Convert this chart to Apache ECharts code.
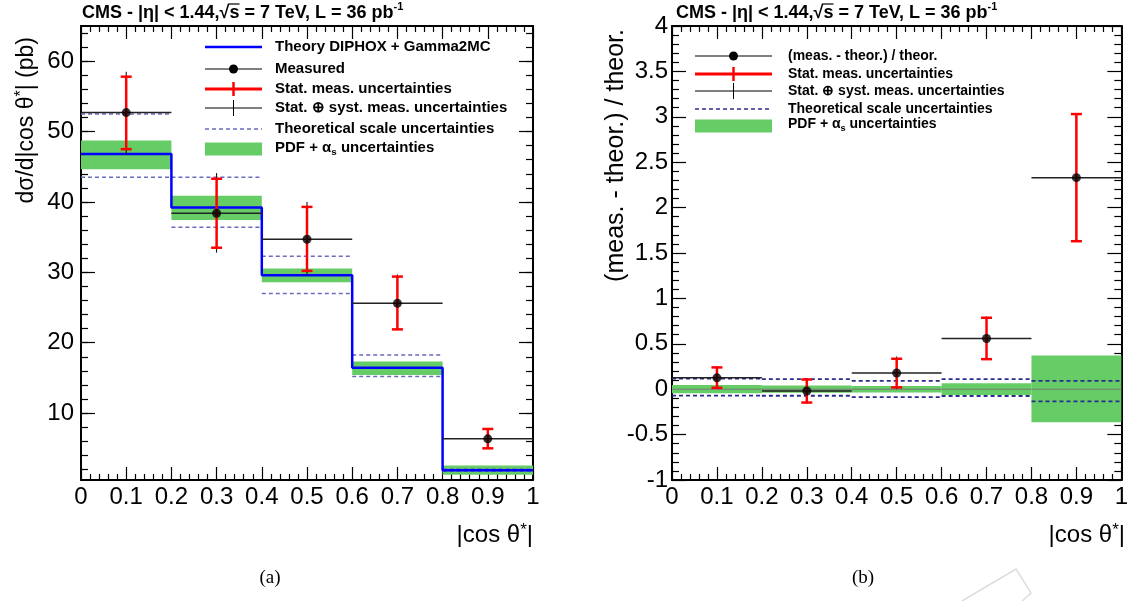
<!DOCTYPE html>
<html>
<head>
<meta charset="utf-8">
<script src="https://cdn.jsdelivr.net/npm/echarts@6/dist/echarts.min.js"></script>
<style>
  html, body { margin: 0; padding: 0; background: #fff; }
  #main { width: 1131px; height: 601px; }
</style>
</head>
<body>
<div id="main"></div>
<script>
// bins in |cos theta*|
var binLow = [0, 0.2, 0.4, 0.6, 0.8];
var binHigh = [0.2, 0.4, 0.6, 0.8, 1.0];
var binCenter = [0.1, 0.3, 0.5, 0.7, 0.9];

// (a) cross section, pb
var measured = [52.7, 38.4, 34.7, 25.6, 6.35];
var statUp = [57.8, 43.3, 39.3, 29.4, 7.75];
var statDown = [47.5, 33.5, 30.2, 21.9, 5.0];
var totUp = [58.5, 44.1, 40.0, 29.7, 7.85];
var totDown = [46.7, 32.8, 29.6, 21.8, 4.95];
var theory = [46.8, 39.2, 29.6, 16.45, 1.9];
var pdfUp = [48.75, 40.9, 30.55, 17.35, 2.55];
var pdfDown = [44.65, 37.45, 28.6, 15.4, 1.25];
var scaleUp = [52.5, 43.5, 32.3, 18.25, 2.05];
var scaleDown = [43.5, 36.4, 27.0, 15.2, 1.75];

// (b) (meas - theor) / theor
var ratio = [0.125, -0.02, 0.178, 0.558, 2.33];
var rStatUp = [0.24, 0.107, 0.335, 0.787, 3.03];
var rStatDown = [0.015, -0.147, 0.02, 0.331, 1.63];
var rTotUp = [0.255, 0.12, 0.36, 0.80, 3.04];
var rTotDown = [0.005, -0.16, 0.0, 0.32, 1.62];
var rPdfUp = [0.045, 0.04, 0.035, 0.065, 0.37];
var rPdfDown = [-0.045, -0.04, -0.035, -0.065, -0.365];
var rScaleUp = [0.117, 0.11, 0.092, 0.11, 0.092];
var rScaleDown = [-0.07, -0.072, -0.088, -0.075, -0.135];

// axis ticks
var yTicksA = [10, 20, 30, 40, 50, 60];
var yMinorA = [];
for (var t = 2; t <= 64; t += 2) yMinorA.push(t);

var FONT = 'Liberation Sans, Arial, Helvetica, sans-serif';
var GREEN = '#66cc66';
var TITLE = 'CMS - |\u03b7| < 1.44,\u221as = 7 TeV, L = 36 pb';

function rows() {
    var cols = Array.prototype.slice.call(arguments);
    return cols[0].map(function (v, i) {
        return cols.map(function (c) { return c[i]; });
    });
}

function stepLine(lo, hi, v) {
    var pts = [];
    for (var i = 0; i < v.length; i++) {
        pts.push([lo[i], v[i]]);
        pts.push([hi[i], v[i]]);
    }
    return pts;
}

// [lo, hi, down, up]
function renderBand(params, api) {
    var p1 = api.coord([api.value(0), api.value(3)]);
    var p2 = api.coord([api.value(1), api.value(2)]);
    return {
        type: 'rect',
        shape: { x: p1[0], y: p1[1], width: p2[0] - p1[0], height: p2[1] - p1[1] },
        style: { fill: GREEN }
    };
}

function makeDashed(color, width) {
    return function (params, api) {
        var a1 = api.coord([api.value(0), api.value(3)]);
        var a2 = api.coord([api.value(1), api.value(3)]);
        var b1 = api.coord([api.value(0), api.value(2)]);
        var b2 = api.coord([api.value(1), api.value(2)]);
        var st = { stroke: color, lineWidth: width, lineDash: [4, 3] };
        return {
            type: 'group',
            children: [
                { type: 'line', shape: { x1: a1[0], y1: a1[1], x2: a2[0], y2: a2[1] }, style: st },
                { type: 'line', shape: { x1: b1[0], y1: b1[1], x2: b2[0], y2: b2[1] }, style: st }
            ]
        };
    };
}

// [lo, hi, value]
function makeHoriz(color) {
    return function (params, api) {
        var p1 = api.coord([api.value(0), api.value(2)]);
        var p2 = api.coord([api.value(1), api.value(2)]);
        return {
            type: 'line',
            shape: { x1: p1[0], y1: p1[1], x2: p2[0], y2: p2[1] },
            style: { stroke: color, lineWidth: 1.5 }
        };
    };
}

// [x, down, up]
function makeErr(color, width, cap) {
    return function (params, api) {
        var top = api.coord([api.value(0), api.value(2)]);
        var bot = api.coord([api.value(0), api.value(1)]);
        var st = { stroke: color, lineWidth: width };
        var kids = [{ type: 'line', shape: { x1: top[0], y1: top[1], x2: bot[0], y2: bot[1] }, style: st }];
        if (cap) {
            kids.push({ type: 'line', shape: { x1: top[0] - cap, y1: top[1], x2: top[0] + cap, y2: top[1] }, style: st });
            kids.push({ type: 'line', shape: { x1: bot[0] - cap, y1: bot[1], x2: bot[0] + cap, y2: bot[1] }, style: st });
        }
        return { type: 'group', children: kids };
    };
}

function xAxisPair(grid) {
    var base = {
        type: 'value', gridIndex: grid, min: 0, max: 1, interval: 0.1,
        axisLine: { show: true, onZero: false, lineStyle: { color: '#000', width: 2 } },
        axisTick: { show: true, inside: true, length: 13, lineStyle: { color: '#000', width: 1.2 } },
        minorTick: { show: true, splitNumber: 5, length: 6, lineStyle: { color: '#000', width: 1.2 } },
        splitLine: { show: false },
        axisLabel: { show: true, fontSize: 24, color: '#000', fontFamily: FONT, margin: 5 }
    };
    var top = JSON.parse(JSON.stringify(base));
    top.position = 'top';
    top.axisLabel = { show: false };
    base.position = 'bottom';
    return [base, top];
}

function yAxisA(pos, major, labels) {
    return {
        type: 'value', gridIndex: 0, min: 0.5, max: 65, position: pos,
        axisLine: { show: major, onZero: false, lineStyle: { color: '#000', width: 2 } },
        axisTick: { show: true, inside: true, length: major ? 14 : 7, customValues: major ? yTicksA : yMinorA, lineStyle: { color: '#000', width: 1.2 } },
        splitLine: { show: false },
        axisLabel: labels ? { show: true, customValues: yTicksA, fontSize: 24, color: '#000', fontFamily: FONT, margin: 7 } : { show: false }
    };
}

function yAxisB(pos, labels) {
    return {
        type: 'value', gridIndex: 1, min: -1, max: 4, interval: 0.5, position: pos,
        axisLine: { show: true, onZero: false, lineStyle: { color: '#000', width: 2 } },
        axisTick: { show: true, inside: true, length: 14, lineStyle: { color: '#000', width: 1.2 } },
        minorTick: { show: true, splitNumber: 5, length: 7, lineStyle: { color: '#000', width: 1.2 } },
        splitLine: { show: false },
        axisLabel: labels ? { show: true, fontSize: 24, color: '#000', fontFamily: FONT, margin: 4 } : { show: false }
    };
}

var xa = xAxisPair(0), xb = xAxisPair(1);

function legendRow(x1, x2, y, kind, dashColor) {
    var cx = (x1 + x2) / 2;
    var out = [];
    if (kind === 'blue') {
        out.push({ type: 'line', shape: { x1: x1, y1: y, x2: x2, y2: y }, style: { stroke: '#0000ff', lineWidth: 2.5 } });
    } else if (kind === 'point') {
        out.push({ type: 'line', shape: { x1: x1, y1: y, x2: x2, y2: y }, style: { stroke: '#000', lineWidth: 1.2 } });
        out.push({ type: 'circle', shape: { cx: cx, cy: y, r: 4.5 }, style: { fill: '#000' } });
    } else if (kind === 'red') {
        out.push({ type: 'line', shape: { x1: x1, y1: y, x2: x2, y2: y }, style: { stroke: '#ff0000', lineWidth: 3 } });
        out.push({ type: 'line', shape: { x1: cx, y1: y - 7, x2: cx, y2: y + 7 }, style: { stroke: '#ff0000', lineWidth: 2.5 } });
    } else if (kind === 'black') {
        out.push({ type: 'line', shape: { x1: x1, y1: y, x2: x2, y2: y }, style: { stroke: '#000', lineWidth: 1.2 } });
        out.push({ type: 'line', shape: { x1: cx, y1: y - 8, x2: cx, y2: y + 8 }, style: { stroke: '#000', lineWidth: 1 } });
    } else if (kind === 'dash') {
        out.push({ type: 'line', shape: { x1: x1, y1: y, x2: x2, y2: y }, style: { stroke: dashColor, lineWidth: 1.5, lineDash: [4, 3] } });
    } else if (kind === 'green') {
        out.push({ type: 'rect', shape: { x: x1, y: y - 6.5, width: x2 - x1, height: 13 }, style: { fill: GREEN } });
    }
    return out;
}

function legendText(x, y, text, fontSize) {
    return {
        type: 'text', x: x, y: y,
        style: {
            text: text, fill: '#000', font: 'bold ' + fontSize + 'px ' + FONT,
            textVerticalAlign: 'middle',
            rich: {
                sub: { fontSize: fontSize * 0.65, fontWeight: 'bold', fontFamily: FONT, padding: [8, 0, 0, 0] }
            }
        }
    };
}

var graphics = [];

// left legend
var LA = { x1: 205, x2: 262, tx: 275, fs: 15 };
var leftRows = [
    ['blue', 'Theory DIPHOX + Gamma2MC', 47],
    ['point', 'Measured', 69],
    ['red', 'Stat. meas. uncertainties', 89],
    ['black', 'Stat. \u2295 syst. meas. uncertainties', 108],
    ['dash', 'Theoretical scale uncertainties', 129],
    ['green', 'PDF + \u03b1{sub|s} uncertainties', 149]
];
leftRows.forEach(function (r) {
    graphics = graphics.concat(legendRow(LA.x1, LA.x2, r[2], r[0], '#6a6ac0'));
    graphics.push(legendText(LA.tx, r[2] - (r[0] === 'green' ? 1 : 0), r[1], LA.fs));
});

// right legend
var LB = { x1: 695, x2: 772, tx: 788, fs: 14 };
var rightRows = [
    ['point', '(meas. - theor.) / theor.', 56],
    ['red', 'Stat. meas. uncertainties', 74],
    ['black', 'Stat. \u2295 syst. meas. uncertainties', 91],
    ['dash', 'Theoretical scale uncertainties', 109],
    ['green', 'PDF + \u03b1{sub|s} uncertainties', 126]
];
rightRows.forEach(function (r) {
    graphics = graphics.concat(legendRow(LB.x1, LB.x2, r[2], r[0], '#2b2b8f'));
    graphics.push(legendText(LB.tx, r[2] - (r[0] === 'green' ? 2 : 0), r[1], LB.fs));
});

// titles, with an overline on the s under the root sign
var measureCtx = document.createElement('canvas').getContext('2d');
measureCtx.font = 'bold 18px ' + FONT;
var preRoot = measureCtx.measureText('CMS - |\u03b7| < 1.44,\u221a').width;
var sWidth = measureCtx.measureText('s').width;
[82, 676].forEach(function (x) {
    graphics.push({
        type: 'text', x: x, y: 13,
        style: {
            text: TITLE + '{sup|-1}',
            font: 'bold 18px ' + FONT, fill: '#000', textVerticalAlign: 'middle',
            rich: { sup: { fontSize: 11, fontWeight: 'bold', fontFamily: FONT, padding: [0, 0, 12, 0] } }
        }
    });
    graphics.push({
        type: 'line',
        shape: { x1: x + preRoot - 1, y1: 4, x2: x + preRoot + sWidth, y2: 4 },
        style: { stroke: '#000', lineWidth: 1.2 }
    });
});

// axis titles
graphics.push({
    type: 'text', x: 27, y: 37, rotation: Math.PI / 2,
    style: {
        text: 'd\u03c3/d|cos \u03b8{sup|*}| (pb)', font: '23px ' + FONT, fill: '#000',
        textAlign: 'right', textVerticalAlign: 'middle',
        rich: { sup: { fontSize: 16, fontFamily: FONT, padding: [0, 0, 10, 0] } }
    }
});
graphics.push({
    type: 'text', x: 616, y: 29, rotation: Math.PI / 2,
    style: {
        text: '(meas. - theor.) / theor.', font: '25px ' + FONT, fill: '#000',
        textAlign: 'right', textVerticalAlign: 'middle'
    }
});
[533, 1125].forEach(function (x) {
    graphics.push({
        type: 'text', x: x, y: 535,
        style: {
            text: '|cos \u03b8{sup|*}|', font: '24px ' + FONT, fill: '#000',
            textAlign: 'right', textVerticalAlign: 'middle',
            rich: { sup: { fontSize: 17, fontFamily: FONT, padding: [0, 0, 10, 0] } }
        }
    });
});

// captions
[['(a)', 270], ['(b)', 863]].forEach(function (c) {
    graphics.push({
        type: 'text', x: c[1], y: 578,
        style: { text: c[0], font: '19px Liberation Serif, DejaVu Serif, serif', fill: '#000', textAlign: 'center', textVerticalAlign: 'middle' }
    });
});

// faint watermark corner
graphics.push({
    type: 'polyline',
    shape: { points: [[962, 601], [1016, 569], [1031, 593], [1022, 601]] },
    style: { stroke: '#dddddd', lineWidth: 1.5, fill: null }
});

var chart = echarts.init(document.getElementById('main'), null, { renderer: 'canvas' });

chart.setOption({
    animation: false,
    backgroundColor: '#fff',
    grid: [
        { left: 81, right: 598, top: 26, bottom: 121 },
        { left: 672, right: 6, top: 26, bottom: 121 }
    ],
    xAxis: [xa[0], xa[1], xb[0], xb[1]],
    yAxis: [
        yAxisA('left', true, true),
        yAxisA('left', false, false),
        yAxisA('right', true, false),
        yAxisA('right', false, false),
        yAxisB('left', true),
        yAxisB('right', false)
    ],
    series: [
        // ---- (a)
        { type: 'custom', xAxisIndex: 0, yAxisIndex: 0, renderItem: renderBand, data: rows(binLow, binHigh, pdfDown, pdfUp), z: 1 },
        { type: 'custom', xAxisIndex: 0, yAxisIndex: 0, renderItem: makeDashed('#6a6ac0', 1.5), data: rows(binLow, binHigh, scaleDown, scaleUp), z: 2 },
        {
            type: 'line', xAxisIndex: 0, yAxisIndex: 0, data: stepLine(binLow, binHigh, theory),
            symbol: 'none', lineStyle: { color: '#0000ff', width: 2.5 }, z: 3
        },
        { type: 'custom', xAxisIndex: 0, yAxisIndex: 0, renderItem: makeHoriz('#222'), data: rows(binLow, binHigh, measured), z: 4 },
        { type: 'custom', xAxisIndex: 0, yAxisIndex: 0, renderItem: makeErr('#000', 1, 0), data: rows(binCenter, totDown, totUp), z: 5 },
        { type: 'custom', xAxisIndex: 0, yAxisIndex: 0, renderItem: makeErr('#ff0000', 2.5, 5.5), data: rows(binCenter, statDown, statUp), z: 6 },
        {
            type: 'scatter', xAxisIndex: 0, yAxisIndex: 0, data: rows(binCenter, measured),
            symbol: 'circle', symbolSize: 9, itemStyle: { color: '#000' }, z: 7
        },
        // ---- (b)
        { type: 'custom', xAxisIndex: 2, yAxisIndex: 4, renderItem: renderBand, data: rows(binLow, binHigh, rPdfDown, rPdfUp), z: 1 },
        {
            type: 'line', xAxisIndex: 2, yAxisIndex: 4, data: [[0, 0], [1, 0]],
            symbol: 'none', lineStyle: { color: '#777', width: 1 }, z: 2
        },
        { type: 'custom', xAxisIndex: 2, yAxisIndex: 4, renderItem: makeDashed('#2b2b8f', 1.8), data: rows(binLow, binHigh, rScaleDown, rScaleUp), z: 2 },
        { type: 'custom', xAxisIndex: 2, yAxisIndex: 4, renderItem: makeHoriz('#222'), data: rows(binLow, binHigh, ratio), z: 4 },
        { type: 'custom', xAxisIndex: 2, yAxisIndex: 4, renderItem: makeErr('#000', 1, 0), data: rows(binCenter, rTotDown, rTotUp), z: 5 },
        { type: 'custom', xAxisIndex: 2, yAxisIndex: 4, renderItem: makeErr('#ff0000', 2.5, 5.5), data: rows(binCenter, rStatDown, rStatUp), z: 6 },
        {
            type: 'scatter', xAxisIndex: 2, yAxisIndex: 4, data: rows(binCenter, ratio),
            symbol: 'circle', symbolSize: 9, itemStyle: { color: '#000' }, z: 7
        }
    ],
    graphic: graphics
});
</script>
</body>
</html>
